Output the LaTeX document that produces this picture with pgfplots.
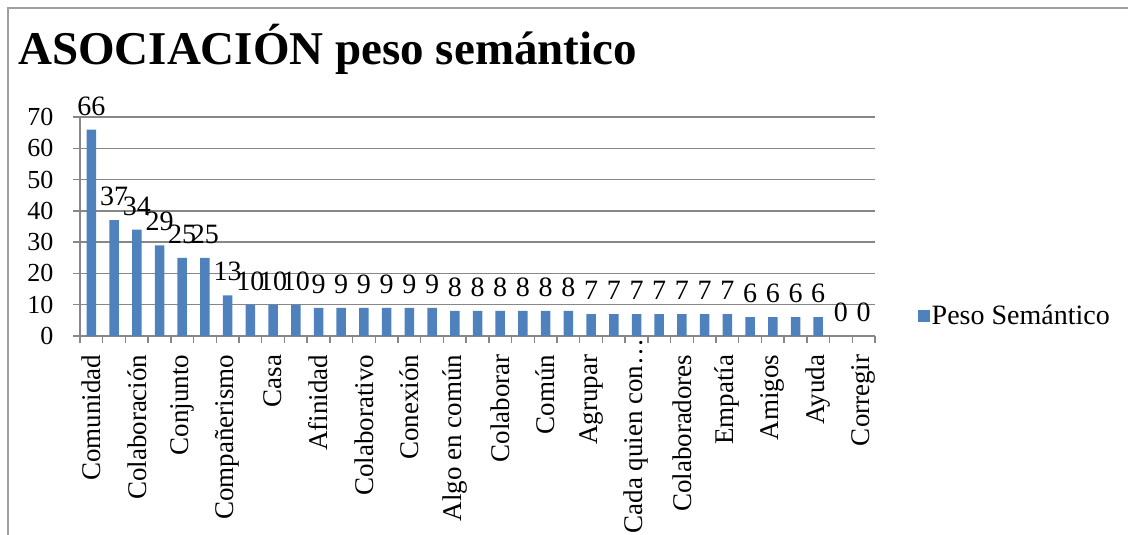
\documentclass[border=0pt]{standalone}
\usepackage{fontspec}
\setmainfont{Liberation Serif}
\usepackage{pgfplots}
\pgfplotsset{compat=1.18}
\definecolor{barblue}{HTML}{4F81BD}
\definecolor{gridgray}{HTML}{878787}
\begin{document}
\begin{tikzpicture}
\path[use as bounding box] (0pt,0pt) rectangle (1128pt,-535pt);
\draw[gridgray!80, line width=1.5pt] (8pt,-535pt) -- (8pt,-8pt) -- (1128pt,-8pt);
\node[anchor=base west, inner sep=0pt, font=\fontsize{47}{52}\selectfont\bfseries] at (18pt,-65pt) {ASOCIACIÓN peso semántico};
\begin{axis}[
  at={(80pt,-336pt)}, anchor=south west,
  scale only axis, width=795pt, height=219pt,
  xmin=-0.5, xmax=34.5, ymin=0, ymax=70,
  axis x line*=bottom, axis y line*=left,
  axis line style={draw=gridgray, line width=1.3pt},
  ymajorgrids=true,
  grid style={draw=gridgray, line width=1.3pt},
  tick style={draw=gridgray, line width=1.3pt},
  tick align=outside, major tick length=7pt,
  ytick={0,10,...,70},
  xtick={-0.5,0.5,...,34.5}, xticklabels={},
  extra x ticks={0,2,...,34},
  extra x tick labels={Comunidad,Colaboración,Conjunto,Compañerismo,Casa,Afinidad,Colaborativo,Conexión,Algo en común,Colaborar,Común,Agrupar,{Cada quien con…\hspace*{-16pt}},Colaboradores,Empatía,Amigos,Ayuda,Corregir},
  extra x tick style={major tick length=0pt, xticklabel style={yshift=-15pt, rotate=90, anchor=east, font=\fontsize{27}{31}\selectfont}},
  /pgf/number format/assume math mode=true,
  yticklabel style={font=\fontsize{26}{30}\selectfont, xshift=-16pt},
  ybar, bar width=9.5pt,
  nodes near coords,
  every node near coord/.append style={font=\fontsize{28}{32}\selectfont, inner sep=1pt, yshift=13pt},
  legend style={at={(1.0535,0.0913)}, anchor=west, draw=none, fill=none, inner sep=0pt,
    font=\fontsize{28}{32}\selectfont},
  legend image code/.code={\fill[barblue] (0pt,-6pt) rectangle (12pt,6pt);},
]
\addplot[fill=barblue, draw=none] coordinates {
(0,66) (1,37) (2,34) (3,29) (4,25) (5,25) (6,13) (7,10) (8,10) (9,10)
(10,9) (11,9) (12,9) (13,9) (14,9) (15,9)
(16,8) (17,8) (18,8) (19,8) (20,8) (21,8)
(22,7) (23,7) (24,7) (25,7) (26,7) (27,7) (28,7)
(29,6) (30,6) (31,6) (32,6) (33,0) (34,0)
};
\addlegendentry{Peso Semántico}
\end{axis}
\end{tikzpicture}
\end{document}
